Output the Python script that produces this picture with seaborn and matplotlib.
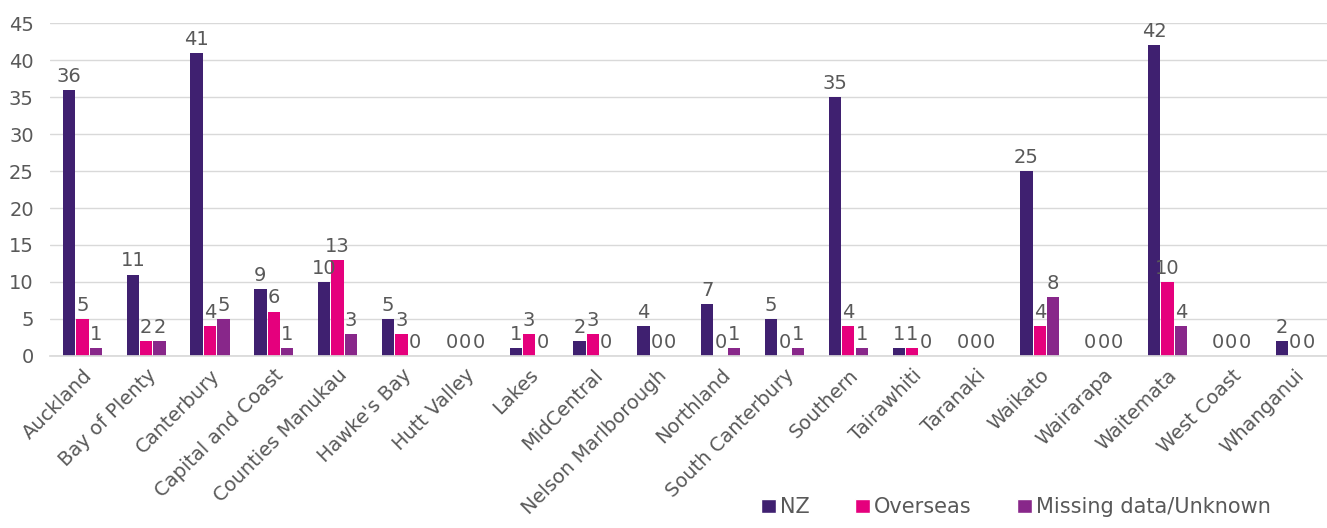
import matplotlib
matplotlib.use("Agg")
import matplotlib.pyplot as plt
import seaborn as sns
import pandas as pd
from matplotlib.patches import Patch

categories = ["Auckland", "Bay of Plenty", "Canterbury", "Capital and Coast", "Counties Manukau",
              "Hawke's Bay", "Hutt Valley", "Lakes", "MidCentral", "Nelson Marlborough",
              "Northland", "South Canterbury", "Southern", "Tairawhiti", "Taranaki",
              "Waikato", "Wairarapa", "Waitemata", "West Coast", "Whanganui"]
nz = [36, 11, 41, 9, 10, 5, 0, 1, 2, 4, 7, 5, 35, 1, 0, 25, 0, 42, 0, 2]
overseas = [5, 2, 4, 6, 13, 3, 0, 3, 3, 0, 0, 0, 4, 1, 0, 4, 0, 10, 0, 0]
missing = [1, 2, 5, 1, 3, 0, 0, 0, 0, 0, 1, 1, 1, 0, 0, 8, 0, 4, 0, 0]
series_names = ["NZ", "Overseas", "Missing data/Unknown"]
colors = ["#3F2070", "#E5007D", "#88278A"]
yticks = [0, 5, 10, 15, 20, 25, 30, 35, 40, 45]

df = pd.DataFrame({"DHB": categories * 3,
                   "Series": [series_names[0]] * 20 + [series_names[1]] * 20 + [series_names[2]] * 20,
                   "Count": nz + overseas + missing})

sns.set_theme(style="white")
plt.rcParams["font.family"] = ["DejaVu Sans"]
text_color = "#595959"
fs = 14

fig = plt.figure(figsize=(13.27, 5.28), dpi=100)
ax = fig.add_axes([0.038, 0.326, 0.962, 0.63])

sns.barplot(data=df, x="DHB", y="Count", hue="Series", palette=colors,
            width=0.63, gap=0.08, ax=ax, legend=False, saturation=1, linewidth=0)

for cont in ax.containers:
    ax.bar_label(cont, fmt="%d", padding=3, fontsize=fs, color=text_color)

ax.set_ylim(0, 45)
ax.set_yticks(yticks)
ax.set_xlim(-0.5, len(categories) - 0.5)
ax.yaxis.grid(True, color="#D9D9D9", linewidth=1)
ax.set_axisbelow(True)
for s in ["top", "right", "left"]:
    ax.spines[s].set_visible(False)
ax.spines["bottom"].set_color("#D9D9D9")
ax.tick_params(axis="y", length=0, labelsize=fs, labelcolor=text_color, pad=12)
ax.tick_params(axis="x", length=0, labelsize=fs, labelcolor=text_color, pad=7)
ax.set_xticks(range(len(categories)))
ax.set_xticklabels(categories, rotation=45, ha="right", rotation_mode="anchor")
ax.set_xlabel("")
ax.set_ylabel("")

handles = [Patch(facecolor=c, label=n) for c, n in zip(colors, series_names)]
fig.legend(handles=handles, loc="lower right", bbox_to_anchor=(0.972, -0.015), ncol=3,
           frameon=False, fontsize=fs + 1, handlelength=0.7, handleheight=0.7,
           handletextpad=0.2, columnspacing=2.2, labelcolor=text_color)

fig.savefig("out.png", dpi=100)
